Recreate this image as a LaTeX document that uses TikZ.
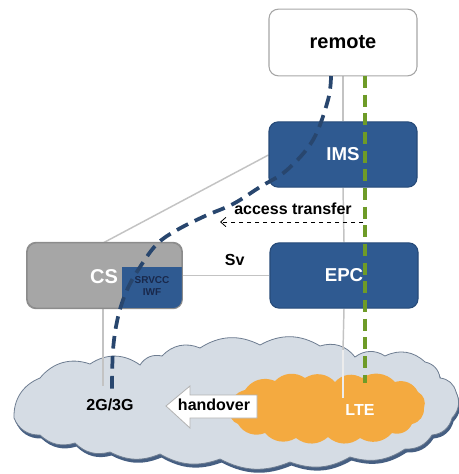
\documentclass[tikz,border=0pt]{standalone}
\usepackage{fontspec}
\setmainfont{Liberation Sans}
\usetikzlibrary{arrows.meta}
\pgfdeclarelayer{background}
\pgfsetlayers{background,main}
\definecolor{boxblue}{RGB}{47,90,145}
\definecolor{boxedge}{RGB}{38,74,120}
\definecolor{csgray}{RGB}{166,166,166}
\definecolor{csedge}{RGB}{140,140,140}
\definecolor{cloudfill}{RGB}{213,220,228}
\definecolor{cloudedge}{RGB}{110,125,145}
\definecolor{cloudshadow}{RGB}{70,95,130}
\definecolor{lteorange}{RGB}{244,170,64}
\definecolor{navydash}{RGB}{40,70,110}
\definecolor{greendash}{RGB}{110,155,40}
\definecolor{iwftext}{RGB}{25,40,75}
\definecolor{linegray}{RGB}{195,195,195}
\newcommand{\BigCloudPath}{(14,418) to[bend left=35] (40,378) to[bend left=35] (90,364) to[bend left=35] (140,365) to[bend left=35] (162,356) to[bend left=35] (200,348) to[bend left=30] (260,345) to[bend left=30] (320,346) to[bend left=35] (355,357) to[bend left=35] (385,356) to[bend left=35] (425,362) to[bend left=35] (440,378) to[bend left=35] (456,392) to[bend left=35] (452,418) to[bend left=35] (432,435) to[bend left=30] (405,449) to[bend left=25] (350,457) to[bend left=25] (290,462) to[bend left=25] (220,459) to[bend left=25] (160,454) to[bend left=25] (110,452) to[bend left=30] (75,443) to[bend left=30] (40,435) to[bend left=35] (14,418) -- cycle}
\begin{document}
\begin{tikzpicture}[x=0.75pt,y=-0.75pt,
  box/.style={rounded corners=7pt, minimum width=111pt, minimum height=49pt, line width=0.8pt, font=\bfseries\fontsize{14}{16}\selectfont},
  bluebox/.style={box, fill=boxblue, draw=boxedge, text=white},
  conn/.style={draw=linegray, line width=1.1pt},
  lbl/.style={font=\bfseries\fontsize{12}{14}\selectfont, text=black, inner sep=1pt},
  navyline/.style={draw=navydash, line width=2.8pt, dash pattern=on 9.5pt off 5.5pt},
  greenline/.style={draw=greendash, line width=2.4pt, dash pattern=on 9pt off 5pt}]
\useasboundingbox (0,0) rectangle (458,474);

% nodes
\node[box, fill=white, draw=gray!70, text=black, font=\bfseries\fontsize{15}{18}\selectfont, minimum height=50pt] (remote) at (343,42.5) {remote};
\node[bluebox] (ims) at (343,154.5) {IMS};
\node[bluebox] (epc) at (344,275.5) {EPC};
\node[box, fill=csgray, draw=csedge, minimum width=116pt, text=white] (cs) at (104.5,275.5) {};
\begin{scope}
  \clip (122,267) rectangle (200,320);
  \fill[boxblue, rounded corners=7pt] (cs.north west) rectangle (cs.south east);
\end{scope}
\draw[csedge, line width=0.8pt, rounded corners=7pt] (cs.north west) rectangle (cs.south east);
\node[font=\bfseries\fontsize{15}{18}\selectfont, text=white] (cslabel) at (104,277) {CS};
\node[font=\bfseries\fontsize{7.5}{8.5}\selectfont, text=iwftext, align=center] (iwf) at (152,286) {SRVCC\\IWF};

% labels in the radio clouds
\node[lbl] (g23) at (110,405) {2G/3G};
\node[lbl, text=white] (lte) at (360,410) {LTE};
\coordinate (csfoot) at (103,386);
\coordinate (ltefoot) at (343,398);
\coordinate (cloudtop) at (343,350);

\begin{pgfonlayer}{background}
% clouds
\fill[cloudshadow] [shift={(1.5,3.5)}] \BigCloudPath;
\filldraw[fill=cloudfill, draw=cloudedge, line width=0.6pt] \BigCloudPath;
\fill[lteorange] (230,410) to[bend left=40] (245,390) to[bend left=40] (275,381) to[bend left=40] (305,378) to[bend left=40] (335,382) to[bend left=40] (362,378) to[bend left=40] (395,382) to[bend left=40] (418,392) to[bend left=40] (424,408) to[bend left=40] (412,424) to[bend left=40] (392,433) to[bend left=40] (360,438) to[bend left=40] (328,437) to[bend left=40] (296,438) to[bend left=40] (265,433) to[bend left=40] (238,424) to[bend left=40] (230,410) -- cycle;
% gray connectors
\draw[conn] (103,243) -- (ims.west |- 0,155);
\draw[conn] (cs.east) -- node[lbl, above=6pt, pos=0.6] (sv) {Sv} (epc.west);
\draw[conn] (cs.south -| 103,0) -- (csfoot);
\draw[conn] (remote.south) -- (ims.north);
\draw[conn] (ims.south) -- (epc.north);
\draw[conn] (epc.south) -- (cloudtop);
\draw[white!85!gray, line width=1.1pt] (cloudtop) -- (ltefoot);
\end{pgfonlayer}

% access transfer
\coordinate (atstart) at (363,222);
\coordinate (atend) at (220,222);
\draw[dashed, line width=0.6pt, -{Straight Barb[length=4pt,width=7pt]}] (atstart) -- (atend);
\node[lbl] (atlabel) at (293,209) {access transfer};

% handover arrow
\filldraw[fill=white, draw=gray!60, line width=0.6pt] (166,406) -- (190,386) -- (190,395) -- (257,395) -- (257,418) -- (190,418) -- (190,428) -- cycle;
\node[lbl] (ho) at (214,405) {handover};

% dashed bearer paths
\coordinate (greentop) at (365,76);
\coordinate (greenfoot) at (365,383);
\draw[greenline] (greentop) -- (greenfoot);
\draw[navyline] plot[smooth, tension=0.6] coordinates {(331,76) (328,100) (313,140) (287,170) (260,187) (233,204) (205,216) (177,230) (157,244) (140,267) (127,290) (118,317) (113,350) (112,392)};
\end{tikzpicture}
\end{document}
